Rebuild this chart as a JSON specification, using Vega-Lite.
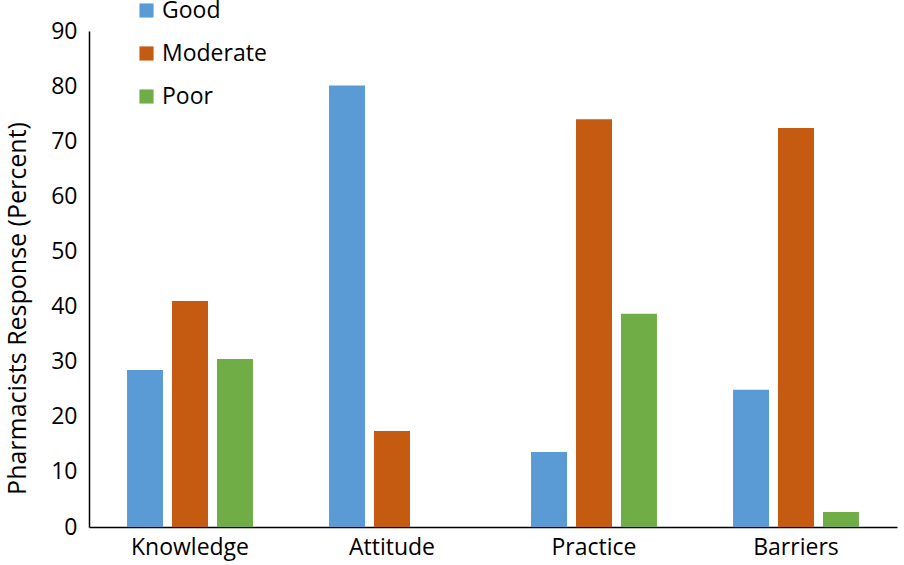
{
  "$schema": "https://vega.github.io/schema/vega-lite/v6.json",
  "width": 808,
  "height": 496,
  "autosize": "none",
  "padding": {"left": 89, "top": 31, "right": 7, "bottom": 38},
  "background": "white",
  "config": {
    "view": {"stroke": null},
    "font": "Open Sans"
  },
  "data": {
    "values": [
      {"domain": "Knowledge", "level": "Good", "percent": 28.5},
      {"domain": "Knowledge", "level": "Moderate", "percent": 41.0},
      {"domain": "Knowledge", "level": "Poor", "percent": 30.5},
      {"domain": "Attitude", "level": "Good", "percent": 80.1},
      {"domain": "Attitude", "level": "Moderate", "percent": 17.4},
      {"domain": "Attitude", "level": "Poor", "percent": 0},
      {"domain": "Practice", "level": "Good", "percent": 13.6},
      {"domain": "Practice", "level": "Moderate", "percent": 74.0},
      {"domain": "Practice", "level": "Poor", "percent": 38.7},
      {"domain": "Barriers", "level": "Good", "percent": 24.9},
      {"domain": "Barriers", "level": "Moderate", "percent": 72.4},
      {"domain": "Barriers", "level": "Poor", "percent": 2.7}
    ]
  },
  "mark": {"type": "bar"},
  "encoding": {
    "x": {
      "field": "domain",
      "type": "nominal",
      "sort": ["Knowledge", "Attitude", "Practice", "Barriers"],
      "scale": {"paddingInner": 0.332, "paddingOuter": 0.166},
      "axis": {
        "title": null,
        "labelAngle": 0,
        "labelFontSize": 23,
        "labelColor": "#000000",
        "labelPadding": 9,
        "ticks": false,
        "domainColor": "#000000",
        "domainWidth": 1.5
      }
    },
    "xOffset": {
      "field": "level",
      "type": "nominal",
      "sort": ["Good", "Moderate", "Poor"],
      "scale": {"paddingInner": 0.2, "paddingOuter": 0.1}
    },
    "y": {
      "field": "percent",
      "type": "quantitative",
      "scale": {"domain": [0, 90]},
      "axis": {
        "title": "Pharmacists  Response (Percent)",
        "titleFontSize": 25,
        "titleFontWeight": "normal",
        "titleColor": "#000000",
        "titlePadding": 20,
        "titleY": 277,
        "values": [0, 10, 20, 30, 40, 50, 60, 70, 80, 90],
        "labelFontSize": 23,
        "labelColor": "#000000",
        "labelPadding": 12,
        "ticks": false,
        "grid": false,
        "domainColor": "#000000",
        "domainWidth": 1.5
      }
    },
    "color": {
      "field": "level",
      "type": "nominal",
      "sort": ["Good", "Moderate", "Poor"],
      "scale": {"domain": ["Good", "Moderate", "Poor"], "range": ["#5B9BD5", "#C55A11", "#70AD47"]},
      "legend": {
        "title": null,
        "orient": "none",
        "legendX": 46,
        "legendY": -32,
        "symbolType": "square",
        "symbolSize": 200,
        "symbolStrokeWidth": 0,
        "labelFontSize": 23,
        "labelColor": "#000000",
        "labelOffset": 4,
        "rowPadding": 19
      }
    }
  }
}
